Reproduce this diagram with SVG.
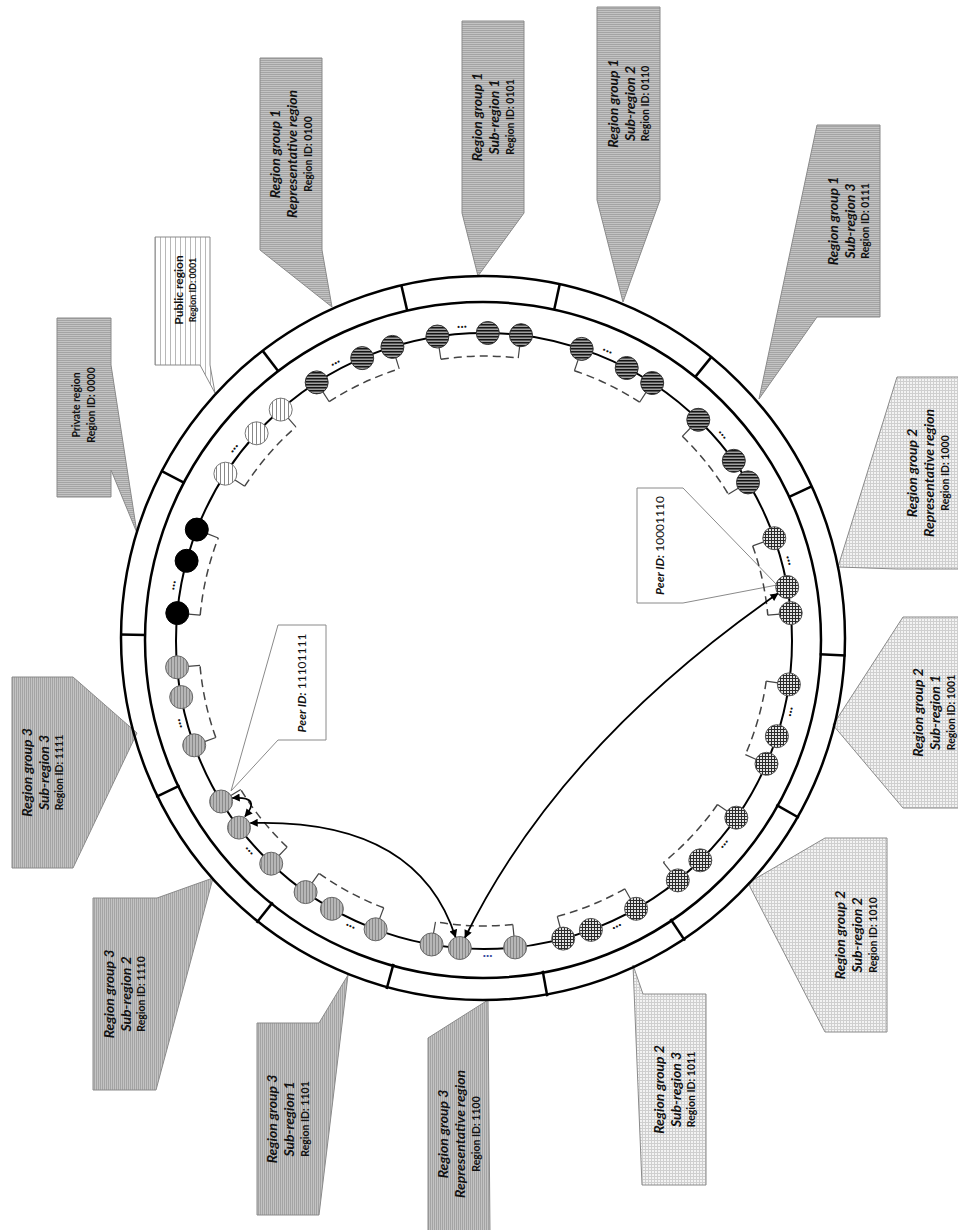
<svg xmlns="http://www.w3.org/2000/svg" width="958" height="1230" viewBox="0 0 958 1230">
  <defs>
    <style>
      .t1 { font-family: Lato, "Liberation Sans", sans-serif; font-size: 14px; font-weight: bold; font-style: italic; fill: #111; text-anchor: middle; }
      .t3 { font-family: Lato, "Liberation Sans", sans-serif; font-size: 10.5px; font-weight: bold; fill: #111; text-anchor: middle; }
      .tp { font-family: Lato, "Liberation Sans", sans-serif; font-size: 10.5px; font-weight: bold; fill: #111; text-anchor: middle; }
      .tpid { font-family: Lato, "Liberation Sans", sans-serif; font-size: 12px; fill: #111; text-anchor: middle; }
      .tpid .k { font-weight: bold; font-style: italic; }
      .dots { font-family: Lato, "Liberation Sans", sans-serif; font-size: 14px; font-weight: bold; fill: #111; text-anchor: middle; }
      .cal { stroke: #8a8a8a; stroke-width: 1; }
      .g1 { fill: url(#calG1); }
      .g2 { fill: url(#calG2); }
      .g3 { fill: url(#calG3); }
      .gp { fill: url(#calPub); }
      .pcal { fill: #fff; stroke: #8a8a8a; stroke-width: 1; }
      .ring { fill: none; stroke: #000; stroke-width: 2.5; }
      .part { stroke: #000; stroke-width: 2.5; }
      .track { fill: none; stroke: #000; stroke-width: 2; }
      .brk { fill: none; stroke: #444; stroke-width: 1.5; stroke-dasharray: 8 5; }
      .tick { stroke: #444; stroke-width: 1.2; }
      .pk { fill: #000; stroke: #000; stroke-width: 1; }
      .pw { fill: url(#peerPub); stroke: #777; stroke-width: 1; }
      .p1 { fill: url(#peerG1); stroke: #333; stroke-width: 1; }
      .p2 { fill: url(#peerG2); stroke: #555; stroke-width: 1; }
      .p3 { fill: url(#peerG3); stroke: #666; stroke-width: 1; }
      .link { fill: none; stroke: #000; stroke-width: 1.8; marker-start: url(#ah); marker-end: url(#ah); }
    </style>
    <!-- callout fills -->
    <pattern id="calG1" width="4" height="2" patternUnits="userSpaceOnUse">
      <rect width="4" height="2" fill="#c3c3c3"/>
      <rect width="4" height="1" fill="#a4a4a4"/>
    </pattern>
    <pattern id="calG3" width="2" height="4" patternUnits="userSpaceOnUse">
      <rect width="2" height="4" fill="#c3c3c3"/>
      <rect width="1" height="4" fill="#a4a4a4"/>
    </pattern>
    <pattern id="calG2" width="3" height="3" patternUnits="userSpaceOnUse">
      <rect width="3" height="3" fill="#f3f3f3"/>
      <path d="M0 0.5H3M0.5 0V3" stroke="#cfcfcf" stroke-width="1"/>
    </pattern>
    <pattern id="calPub" width="5" height="5" patternUnits="userSpaceOnUse">
      <rect width="5" height="5" fill="#fff"/>
      <rect width="1" height="5" fill="#b8b8b8"/>
    </pattern>
    <!-- peer fills -->
    <pattern id="peerG1" width="3" height="3" patternUnits="userSpaceOnUse">
      <rect width="3" height="3" fill="#a0a0a0"/>
      <rect width="3" height="1.5" fill="#151515"/>
    </pattern>
    <pattern id="peerG2" width="3" height="3" patternUnits="userSpaceOnUse">
      <rect width="3" height="3" fill="#e2e2e2"/>
      <path d="M0 0.5H3M0.5 0V3" stroke="#2a2a2a" stroke-width="1"/>
    </pattern>
    <pattern id="peerG3" width="3" height="3" patternUnits="userSpaceOnUse">
      <rect width="3" height="3" fill="#b6b6b6"/>
      <rect width="1" height="3" fill="#8a8a8a"/>
    </pattern>
    <pattern id="peerPub" width="4" height="4" patternUnits="userSpaceOnUse">
      <rect width="4" height="4" fill="#fff"/>
      <rect width="1" height="4" fill="#888"/>
    </pattern>
    <marker id="ah" viewBox="0 0 10 10" refX="9" refY="5" markerWidth="9" markerHeight="8" markerUnits="userSpaceOnUse" orient="auto-start-reverse">
      <path d="M0,0 L10,5 L0,10 z" fill="#000"/>
    </marker>
  </defs>

  <rect width="958" height="1230" fill="#fff"/>

  <!-- region callouts -->
  <g id="region-callouts">
    <g id="callout-0000">
      <polygon class="cal g1" points="57,318 111,318 111,365 137,533 111,470 111,497 57,497"/>
      <g transform="translate(84 405) rotate(-90)">
        <text class="tp" y="-4.5">Private region</text>
        <text class="tp" y="10.5">Region ID: 0000</text>
      </g>
    </g>
    <g id="callout-0001">
      <polygon class="cal gp" points="155,237 210,237 210,365 215,393 200,365 155,365"/>
      <g transform="translate(182.5 290) rotate(-90)">
        <text class="tp" style="font-size:12px" y="0">Public region</text>
        <text class="tp" style="font-size:9px" y="13.5">Region ID: 0001</text>
      </g>
    </g>
    <g id="callout-0100">
      <polygon class="cal g1" points="260,58 322,58 322,250 332,307 260,250"/>
      <g transform="translate(291 154) rotate(-90)">
        <text class="t1" y="-11">Region group 1</text>
        <text class="t1" y="6">Representative region</text>
        <text class="t3" y="20.5">Region ID: 0100</text>
      </g>
    </g>
    <g id="callout-0101">
      <polygon class="cal g1" points="462,21 524,21 524,213 478,276 462,213"/>
      <g transform="translate(493 117) rotate(-90)">
        <text class="t1" y="-11">Region group 1</text>
        <text class="t1" y="6">Sub-region 1</text>
        <text class="t3" y="20.5">Region ID: 0101</text>
      </g>
    </g>
    <g id="callout-0110">
      <polygon class="cal g1" points="597,7 660,7 660,200 623,302 597,200"/>
      <g transform="translate(628.5 103.5) rotate(-90)">
        <text class="t1" y="-11">Region group 1</text>
        <text class="t1" y="6">Sub-region 2</text>
        <text class="t3" y="20.5">Region ID: 0110</text>
      </g>
    </g>
    <g id="callout-0111">
      <polygon class="cal g1" points="817,125 880,125 880,317 817,317 759,399"/>
      <g transform="translate(848.5 221) rotate(-90)">
        <text class="t1" y="-11">Region group 1</text>
        <text class="t1" y="6">Sub-region 3</text>
        <text class="t3" y="20.5">Region ID: 0111</text>
      </g>
    </g>
    <g id="callout-1000">
      <polygon class="cal g2" points="897,377 962,377 962,569 897,569 838,567"/>
      <g transform="translate(928 473) rotate(-90)">
        <text class="t1" y="-11">Region group 2</text>
        <text class="t1" y="6">Representative region</text>
        <text class="t3" y="20.5">Region ID: 1000</text>
      </g>
    </g>
    <g id="callout-1001">
      <polygon class="cal g2" points="903,617 965,617 965,808 903,808 833,725"/>
      <g transform="translate(934 712.5) rotate(-90)">
        <text class="t1" y="-11">Region group 2</text>
        <text class="t1" y="6">Sub-region 1</text>
        <text class="t3" y="20.5">Region ID: 1001</text>
      </g>
    </g>
    <g id="callout-1010">
      <polygon class="cal g2" points="825,838 887,838 887,1032 825,1032 748,883"/>
      <g transform="translate(856 935) rotate(-90)">
        <text class="t1" y="-11">Region group 2</text>
        <text class="t1" y="6">Sub-region 2</text>
        <text class="t3" y="20.5">Region ID: 1010</text>
      </g>
    </g>
    <g id="callout-1011">
      <polygon class="cal g2" points="643,994 706,994 706,1185 642,1185 633,965"/>
      <g transform="translate(674.5 1089.5) rotate(-90)">
        <text class="t1" y="-11">Region group 2</text>
        <text class="t1" y="6">Sub-region 3</text>
        <text class="t3" y="20.5">Region ID: 1011</text>
      </g>
    </g>
    <g id="callout-1100">
      <polygon class="cal g3" points="428,1038 488,1000 490,1232 428,1232"/>
      <g transform="translate(459 1134) rotate(-90)">
        <text class="t1" y="-11">Region group 3</text>
        <text class="t1" y="6">Representative region</text>
        <text class="t3" y="20.5">Region ID: 1100</text>
      </g>
    </g>
    <g id="callout-1101">
      <polygon class="cal g3" points="257,1023 319,1023 348,975 319,1215 257,1215"/>
      <g transform="translate(288 1119) rotate(-90)">
        <text class="t1" y="-11">Region group 3</text>
        <text class="t1" y="6">Sub-region 1</text>
        <text class="t3" y="20.5">Region ID: 1101</text>
      </g>
    </g>
    <g id="callout-1110">
      <polygon class="cal g3" points="93,898 157,898 213,878 156,1090 93,1090"/>
      <g transform="translate(124.5 994) rotate(-90)">
        <text class="t1" y="-11">Region group 3</text>
        <text class="t1" y="6">Sub-region 2</text>
        <text class="t3" y="20.5">Region ID: 1110</text>
      </g>
    </g>
    <g id="callout-1111">
      <polygon class="cal g3" points="12,677 73,677 137,733 73,868 12,868"/>
      <g transform="translate(42.5 772.5) rotate(-90)">
        <text class="t1" y="-11">Region group 3</text>
        <text class="t1" y="6">Sub-region 3</text>
        <text class="t3" y="20.5">Region ID: 1111</text>
      </g>
    </g>
  </g>

  <!-- region ring with partitions -->
  <g id="ring">
    <circle class="ring" cx="483" cy="638" r="362"/>
    <circle class="ring" cx="483" cy="640" r="338"/>
    <g class="part">
      <line x1="820" y1="639" x2="846" y2="639" transform="rotate(-24.9 483 639)"/>
      <line x1="820" y1="639" x2="846" y2="639" transform="rotate(-51 483 639)"/>
      <line x1="820" y1="639" x2="846" y2="639" transform="rotate(-77.8 483 639)"/>
      <line x1="820" y1="639" x2="846" y2="639" transform="rotate(-103 483 639)"/>
      <line x1="820" y1="639" x2="846" y2="639" transform="rotate(-127.4 483 639)"/>
      <line x1="820" y1="639" x2="846" y2="639" transform="rotate(-152.4 483 639)"/>
      <line x1="820" y1="639" x2="846" y2="639" transform="rotate(-179.3 483 639)"/>
      <line x1="820" y1="639" x2="846" y2="639" transform="rotate(-205.8 483 639)"/>
      <line x1="820" y1="639" x2="846" y2="639" transform="rotate(-231.4 483 639)"/>
      <line x1="820" y1="639" x2="846" y2="639" transform="rotate(-254.6 483 639)"/>
      <line x1="820" y1="639" x2="846" y2="639" transform="rotate(-280.2 483 639)"/>
      <line x1="820" y1="639" x2="846" y2="639" transform="rotate(-303.8 483 639)"/>
      <line x1="820" y1="639" x2="846" y2="639" transform="rotate(-330.5 483 639)"/>
      <line x1="820" y1="639" x2="846" y2="639" transform="rotate(-357.4 483 639)"/>
    </g>
  </g>

  <!-- peer ID callouts -->
  <g id="peer-callout-11101111">
    <polygon class="pcal" points="278,625 326,625 326,740 278,740 231,791"/>
    <text class="tpid" transform="translate(302 683) rotate(-90)" y="4"><tspan class="k">Peer ID:</tspan> 11101111</text>
  </g>
  <g id="peer-callout-10001110">
    <polygon class="pcal" points="637,488 683,488 777,585 683,603 637,603"/>
    <text class="tpid" transform="translate(660 545.5) rotate(-90)" y="4"><tspan class="k">Peer ID:</tspan> 10001110</text>
  </g>

  <!-- overlay ring of peers -->
  <circle id="overlay-track" class="track" cx="484" cy="641" r="308"/>

  <!-- dashed region brackets -->
  <g id="brackets">
    <path class="brk" d="M200.2,615.2 A285,285 0 0 1 218.3,537.9"/>
    <path class="brk" d="M244.7,486.2 A285,285 0 0 1 295.9,426.9"/>
    <path class="brk" d="M329.2,401.7 A285,285 0 0 1 399.2,368.9"/>
    <path class="brk" d="M440.9,359.3 A285,285 0 0 1 518.2,358.1"/>
    <path class="brk" d="M574.4,370.7 A285,285 0 0 1 639.6,402.2"/>
    <path class="brk" d="M682.3,436.3 A285,285 0 0 1 728.3,494.2"/>
    <path class="brk" d="M752.7,545.9 A285,285 0 0 1 767.8,615.2"/>
    <path class="brk" d="M766.2,681.2 A285,285 0 0 1 745.4,754.6"/>
    <path class="brk" d="M717.5,804.5 A285,285 0 0 1 663.4,862.5"/>
    <path class="brk" d="M624.8,888.8 A285,285 0 0 1 557.3,916.4"/>
    <path class="brk" d="M512.8,924.5 A285,285 0 0 1 435.5,921.8"/>
    <path class="brk" d="M383.7,907.8 A285,285 0 0 1 318.9,873.3"/>
    <path class="brk" d="M287.1,847.0 A285,285 0 0 1 240.7,789.5"/>
    <path class="brk" d="M215.8,737.5 A285,285 0 0 1 200.0,665.3"/>
    <g class="tick">
      <line x1="769" y1="641" x2="781" y2="641" transform="rotate(-174.8 484 641)"/>
      <line x1="769" y1="641" x2="781" y2="641" transform="rotate(-158.8 484 641)"/>
      <line x1="769" y1="641" x2="781" y2="641" transform="rotate(-147.1 484 641)"/>
      <line x1="769" y1="641" x2="781" y2="641" transform="rotate(-131.3 484 641)"/>
      <line x1="769" y1="641" x2="781" y2="641" transform="rotate(-122.9 484 641)"/>
      <line x1="769" y1="641" x2="781" y2="641" transform="rotate(-107.3 484 641)"/>
      <line x1="769" y1="641" x2="781" y2="641" transform="rotate(-98.7 484 641)"/>
      <line x1="769" y1="641" x2="781" y2="641" transform="rotate(-83.1 484 641)"/>
      <line x1="769" y1="641" x2="781" y2="641" transform="rotate(-71.5 484 641)"/>
      <line x1="769" y1="641" x2="781" y2="641" transform="rotate(-56.9 484 641)"/>
      <line x1="769" y1="641" x2="781" y2="641" transform="rotate(-45.9 484 641)"/>
      <line x1="769" y1="641" x2="781" y2="641" transform="rotate(-31 484 641)"/>
      <line x1="769" y1="641" x2="781" y2="641" transform="rotate(-19.5 484 641)"/>
      <line x1="769" y1="641" x2="781" y2="641" transform="rotate(-5.2 484 641)"/>
      <line x1="769" y1="641" x2="781" y2="641" transform="rotate(-351.9 484 641)"/>
      <line x1="769" y1="641" x2="781" y2="641" transform="rotate(-336.5 484 641)"/>
      <line x1="769" y1="641" x2="781" y2="641" transform="rotate(-325 484 641)"/>
      <line x1="769" y1="641" x2="781" y2="641" transform="rotate(-309 484 641)"/>
      <line x1="769" y1="641" x2="781" y2="641" transform="rotate(-299.6 484 641)"/>
      <line x1="769" y1="641" x2="781" y2="641" transform="rotate(-284.9 484 641)"/>
      <line x1="769" y1="641" x2="781" y2="641" transform="rotate(-275.8 484 641)"/>
      <line x1="769" y1="641" x2="781" y2="641" transform="rotate(-260.2 484 641)"/>
      <line x1="769" y1="641" x2="781" y2="641" transform="rotate(-249.4 484 641)"/>
      <line x1="769" y1="641" x2="781" y2="641" transform="rotate(-234.6 484 641)"/>
      <line x1="769" y1="641" x2="781" y2="641" transform="rotate(-226.3 484 641)"/>
      <line x1="769" y1="641" x2="781" y2="641" transform="rotate(-211.4 484 641)"/>
      <line x1="769" y1="641" x2="781" y2="641" transform="rotate(-199.8 484 641)"/>
      <line x1="769" y1="641" x2="781" y2="641" transform="rotate(-184.9 484 641)"/>
    </g>
  </g>

  <!-- peers -->
  <g id="peers">
    <g id="peer-0000-a"><circle class="pk" cx="177.3" cy="613.1" r="11.5"/></g>
    <g id="peer-0000-b"><circle class="pk" cx="186.6" cy="560.8" r="11.5"/></g>
    <g id="peer-0000-c"><circle class="pk" cx="196.8" cy="529.6" r="11.5"/></g>
    <g id="peer-0001-a"><circle class="pw" cx="225.4" cy="473.7" r="11.5"/></g>
    <g id="peer-0001-b"><circle class="pw" cx="256.6" cy="433.3" r="11.5"/></g>
    <g id="peer-0001-c"><circle class="pw" cx="280.7" cy="409.6" r="11.5"/></g>
    <g id="peer-0100-a"><circle class="p1" cx="316.7" cy="382.4" r="11.5"/></g>
    <g id="peer-0100-b"><circle class="p1" cx="362.2" cy="358.1" r="11.5"/></g>
    <g id="peer-0100-c"><circle class="p1" cx="392.4" cy="346.9" r="11.5"/></g>
    <g id="peer-0101-a"><circle class="p1" cx="437.4" cy="336.5" r="11.5"/></g>
    <g id="peer-0101-b"><circle class="p1" cx="487.8" cy="333.0" r="11.5"/></g>
    <g id="peer-0101-c"><circle class="p1" cx="521.0" cy="335.2" r="11.5"/></g>
    <g id="peer-0110-a"><circle class="p1" cx="581.7" cy="348.9" r="11.5"/></g>
    <g id="peer-0110-b"><circle class="p1" cx="626.7" cy="368.0" r="11.5"/></g>
    <g id="peer-0110-c"><circle class="p1" cx="652.2" cy="383.0" r="11.5"/></g>
    <g id="peer-0111-a"><circle class="p1" cx="698.3" cy="419.8" r="11.5"/></g>
    <g id="peer-0111-b"><circle class="p1" cx="733.8" cy="460.8" r="11.5"/></g>
    <g id="peer-0111-c"><circle class="p1" cx="748.0" cy="482.4" r="11.5"/></g>
    <g id="peer-1000-a"><circle class="p2" cx="774.3" cy="538.2" r="11.5"/></g>
    <g id="peer-10001110"><circle class="p2" cx="787.2" cy="587.0" r="11.5"/></g>
    <g id="peer-1000-c"><circle class="p2" cx="790.7" cy="613.1" r="11.5"/></g>
    <g id="peer-1001-a"><circle class="p2" cx="788.9" cy="684.4" r="11.5"/></g>
    <g id="peer-1001-b"><circle class="p2" cx="776.9" cy="736.2" r="11.5"/></g>
    <g id="peer-1001-c"><circle class="p2" cx="766.5" cy="763.8" r="11.5"/></g>
    <g id="peer-1010-a"><circle class="p2" cx="736.3" cy="817.7" r="11.5"/></g>
    <g id="peer-1010-b"><circle class="p2" cx="700.3" cy="860.3" r="11.5"/></g>
    <g id="peer-1010-c"><circle class="p2" cx="677.8" cy="880.4" r="11.5"/></g>
    <g id="peer-1011-a"><circle class="p2" cx="636.1" cy="908.8" r="11.5"/></g>
    <g id="peer-1011-b"><circle class="p2" cx="590.9" cy="929.9" r="11.5"/></g>
    <g id="peer-1011-c"><circle class="p2" cx="563.2" cy="938.6" r="11.5"/></g>
    <g id="peer-1100-a"><circle class="p3" cx="515.1" cy="947.4" r="11.5"/></g>
    <g id="peer-1100-b"><circle class="p3" cx="459.8" cy="948.0" r="11.5"/></g>
    <g id="peer-1100-c"><circle class="p3" cx="431.6" cy="944.5" r="11.5"/></g>
    <g id="peer-1101-a"><circle class="p3" cx="375.6" cy="929.3" r="11.5"/></g>
    <g id="peer-1101-b"><circle class="p3" cx="331.9" cy="908.8" r="11.5"/></g>
    <g id="peer-1101-c"><circle class="p3" cx="305.6" cy="892.1" r="11.5"/></g>
    <g id="peer-1110-a"><circle class="p3" cx="271.2" cy="863.7" r="11.5"/></g>
    <g id="peer-1110-b"><circle class="p3" cx="239.0" cy="827.6" r="11.5"/></g>
    <g id="peer-11101111"><circle class="p3" cx="221.1" cy="801.5" r="11.5"/></g>
    <g id="peer-1111-a"><circle class="p3" cx="194.2" cy="745.3" r="11.5"/></g>
    <g id="peer-1111-b"><circle class="p3" cx="181.2" cy="697.1" r="11.5"/></g>
    <g id="peer-1111-c"><circle class="p3" cx="177.1" cy="667.3" r="11.5"/></g>
  </g>

  <!-- ellipsis marks between peers -->
  <g id="ellipses">
    <text class="dots" transform="translate(484 641) rotate(-169.85) translate(315 0) rotate(90)" y="1">...</text>
    <text class="dots" transform="translate(484 641) rotate(-142.35) translate(315 0) rotate(90)" y="1">...</text>
    <text class="dots" transform="translate(484 641) rotate(-118.1) translate(315 0) rotate(90)" y="1">...</text>
    <text class="dots" transform="translate(484 641) rotate(-94) translate(315 0) rotate(90)" y="1">...</text>
    <text class="dots" transform="translate(484 641) rotate(-66.95) translate(315 0) rotate(90)" y="1">...</text>
    <text class="dots" transform="translate(484 641) rotate(-40.85) translate(315 0) rotate(90)" y="1">...</text>
    <text class="dots" transform="translate(484 641) rotate(-14.8) translate(315 0) rotate(90)" y="1">...</text>
    <text class="dots" transform="translate(484 641) rotate(-347) translate(315 0) rotate(90)" y="1">...</text>
    <text class="dots" transform="translate(484 641) rotate(-319.8) translate(315 0) rotate(90)" y="1">...</text>
    <text class="dots" transform="translate(484 641) rotate(-294.95) translate(315 0) rotate(90)" y="1">...</text>
    <text class="dots" style="fill:#3a4c9e" transform="translate(484 641) rotate(-270.65) translate(315 0) rotate(90)" y="1">...</text>
    <text class="dots" transform="translate(484 641) rotate(-244.9) translate(315 0) rotate(90)" y="1">...</text>
    <text class="dots" transform="translate(484 641) rotate(-221.8) translate(315 0) rotate(90)" y="1">...</text>
    <text class="dots" transform="translate(484 641) rotate(-195.15) translate(315 0) rotate(90)" y="1">...</text>
  </g>

  <!-- connectors between peers -->
  <g id="connectors">
    <path class="link" d="M777.8,593.6 Q559,746 465,937.5"/>
    <path class="link" d="M250.5,823 Q417,818 455.5,937"/>
    <path class="link" d="M232.5,798 Q262,796 245,816.5"/>
  </g>
</svg>
